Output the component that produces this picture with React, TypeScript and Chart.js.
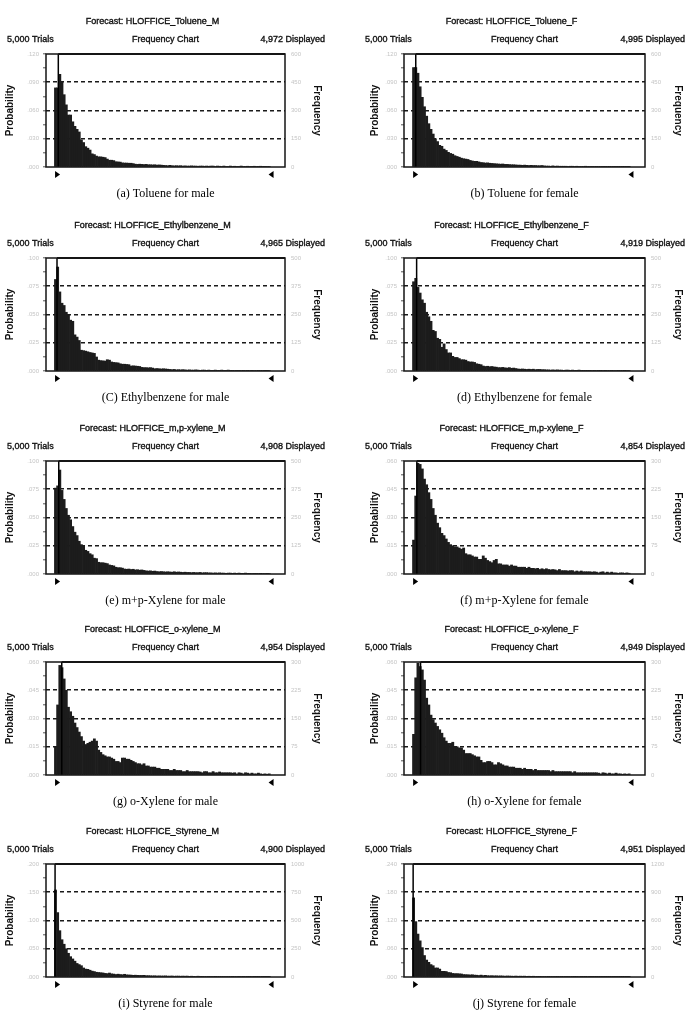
import { useEffect, useRef } from 'react';
import { Chart, registerables } from 'chart.js';

Chart.register(...registerables);
Chart.defaults.font.family = '"Liberation Sans", Arial, sans-serif';

const TRIALS = 5000;

// Forecast class counts (100 classes each, low to high)
const tolueneMale = [
  420, 420, 492, 450, 384, 330, 276, 276, 240, 216,
  200, 186, 144, 130, 108, 100, 90, 70, 66, 58,
  54, 54, 52, 50, 42, 36, 36, 34, 28, 27,
  26, 22, 21, 21, 20, 20, 18, 15, 14, 15,
  14, 13, 14, 12, 12, 11, 12, 10, 11, 10,
  9, 8, 7, 9, 7, 6, 7, 6, 7, 5,
  6, 5, 5, 6, 5, 5, 4, 5, 5, 4,
  5, 4, 5, 5, 3, 5, 4, 3, 5, 3,
  3, 5, 3, 4, 3, 3, 5, 3, 3, 4,
  3, 2, 4, 3, 2, 4, 2, 2, 3, 3,
];
const tolueneFemale = [
  528, 528, 498, 426, 370, 320, 270, 230, 200, 175,
  150, 135, 115, 110, 95, 88, 78, 72, 68, 60,
  56, 52, 47, 44, 42, 40, 35, 32, 30, 30,
  27, 24, 23, 21, 22, 20, 19, 18, 17, 16,
  15, 16, 14, 14, 13, 12, 12, 11, 10, 10,
  9, 10, 9, 8, 9, 8, 8, 7, 7, 8,
  6, 5, 5, 4, 6, 4, 5, 4, 4, 4,
  4, 3, 4, 4, 3, 4, 3, 3, 3, 4,
  3, 3, 2, 3, 2, 3, 3, 2, 2, 3,
  2, 3, 2, 2, 2, 2, 1, 2, 2, 1,
];
const ethylbenzeneMale = [
  405, 460, 350, 300, 290, 260, 250, 225, 220, 160,
  150, 135, 92, 90, 88, 85, 82, 80, 78, 62,
  48, 46, 45, 44, 50, 48, 40, 38, 37, 36,
  32, 30, 30, 29, 28, 22, 23, 22, 21, 20,
  16, 15, 15, 14, 15, 13, 10, 11, 10, 9,
  10, 9, 8, 7, 6, 7, 5, 6, 5, 6,
  5, 4, 5, 4, 4, 5, 4, 3, 4, 4,
  3, 4, 3, 3, 4, 3, 3, 4, 3, 3,
  4, 3, 3, 2, 3, 3, 2, 3, 2, 3,
  2, 3, 2, 2, 1, 2, 2, 3, 1, 2,
];
const ethylbenzeneFemale = [
  395, 410, 370, 345, 315, 300, 260, 240, 220, 180,
  175, 145, 140, 105, 120, 95, 80, 80, 65, 60,
  60, 55, 50, 50, 48, 42, 40, 40, 38, 32,
  30, 28, 22, 20, 21, 19, 20, 18, 17, 15,
  15, 16, 14, 13, 15, 12, 13, 11, 9, 8,
  9, 8, 7, 8, 7, 8, 6, 7, 7, 6,
  6, 5, 5, 4, 5, 4, 5, 4, 4, 3,
  4, 4, 3, 4, 3, 3, 4, 3, 3, 3,
  3, 3, 2, 3, 2, 3, 3, 2, 3, 2,
  2, 3, 2, 2, 3, 2, 2, 1, 2, 2,
];
const mpXyleneMale = [
  380, 390, 460, 370, 330, 290, 260, 240, 210, 185,
  170, 145, 130, 125, 105, 100, 90, 85, 70, 68,
  52, 50, 50, 48, 46, 40, 38, 36, 30, 28,
  28, 26, 22, 21, 22, 20, 21, 18, 19, 17,
  18, 16, 14, 13, 14, 12, 13, 11, 10, 11,
  10, 9, 10, 9, 8, 10, 8, 9, 8, 7,
  8, 7, 7, 6, 7, 6, 6, 7, 5, 6,
  6, 5, 5, 4, 5, 4, 5, 4, 4, 3,
  4, 4, 3, 4, 3, 4, 3, 3, 4, 3,
  3, 2, 3, 3, 2, 3, 2, 2, 1, 2,
];
const mpXyleneFemale = [
  90, 207, 294, 291, 279, 252, 237, 216, 198, 174,
  156, 135, 123, 108, 102, 93, 84, 78, 75, 72,
  72, 69, 66, 69, 54, 51, 51, 48, 45, 45,
  39, 39, 48, 42, 36, 33, 30, 36, 39, 27,
  27, 24, 24, 24, 21, 24, 21, 21, 18, 18,
  18, 18, 15, 18, 15, 15, 14, 15, 12, 14,
  12, 14, 12, 11, 12, 11, 9, 12, 9, 9,
  9, 8, 9, 9, 6, 8, 6, 8, 6, 6,
  6, 6, 5, 6, 5, 3, 5, 6, 3, 5,
  3, 5, 3, 3, 2, 3, 3, 2, 3, 2,
];
const oXyleneMale = [
  75, 186, 291, 285, 255, 225, 180, 168, 156, 138,
  126, 114, 102, 90, 81, 84, 87, 90, 96, 90,
  66, 60, 54, 51, 48, 48, 45, 42, 36, 36,
  33, 45, 45, 42, 42, 39, 36, 33, 30, 30,
  27, 30, 24, 24, 21, 21, 21, 18, 18, 15,
  15, 15, 15, 12, 12, 15, 12, 12, 12, 9,
  9, 12, 9, 9, 9, 9, 9, 8, 6, 9,
  9, 6, 6, 9, 6, 6, 8, 6, 6, 6,
  6, 6, 5, 6, 3, 6, 5, 3, 6, 5,
  3, 5, 3, 3, 5, 3, 2, 3, 2, 3,
];
const oXyleneFemale = [
  108, 258, 297, 288, 279, 252, 204, 186, 159, 147,
  138, 129, 120, 111, 99, 90, 84, 84, 87, 75,
  75, 72, 72, 66, 57, 57, 57, 54, 51, 48,
  48, 39, 33, 33, 36, 36, 33, 27, 27, 33,
  30, 27, 24, 24, 21, 21, 21, 18, 18, 18,
  15, 18, 15, 15, 15, 12, 15, 12, 12, 12,
  12, 12, 12, 9, 12, 9, 9, 9, 9, 9,
  9, 9, 9, 6, 9, 6, 6, 6, 6, 6,
  6, 6, 6, 6, 6, 5, 3, 6, 5, 3,
  5, 3, 3, 5, 3, 3, 2, 3, 2, 3,
];
const styreneMale = [
  770, 570, 410, 330, 290, 250, 210, 180, 160, 140,
  120, 110, 100, 80, 70, 68, 60, 52, 48, 42,
  40, 38, 36, 32, 30, 35, 28, 26, 22, 25,
  22, 20, 24, 19, 18, 17, 15, 16, 15, 14,
  14, 15, 12, 12, 11, 10, 11, 9, 10, 9,
  9, 10, 8, 8, 9, 7, 8, 8, 7, 8,
  7, 8, 6, 7, 6, 5, 7, 6, 6, 5,
  5, 6, 5, 4, 6, 5, 4, 5, 4, 4,
  5, 4, 3, 4, 5, 3, 4, 3, 4, 3,
  3, 4, 3, 2, 3, 4, 2, 3, 2, 3,
];
const styreneFemale = [
  840, 588, 456, 384, 312, 228, 180, 156, 132, 120,
  96, 96, 84, 60, 60, 58, 48, 46, 38, 36,
  36, 34, 32, 26, 25, 24, 22, 24, 20, 19,
  16, 20, 15, 18, 14, 13, 14, 12, 13, 11,
  12, 11, 9, 11, 10, 9, 8, 10, 8, 9,
  8, 9, 7, 8, 7, 8, 6, 7, 7, 6,
  6, 5, 7, 5, 5, 6, 4, 5, 4, 6,
  4, 4, 5, 4, 3, 4, 5, 3, 4, 3,
  5, 3, 3, 4, 3, 4, 3, 2, 3, 3,
  2, 4, 3, 2, 3, 2, 2, 4, 2, 2,
];

const seriesList = [
  tolueneMale, tolueneFemale,
  ethylbenzeneMale, ethylbenzeneFemale,
  mpXyleneMale, mpXyleneFemale,
  oXyleneMale, oXyleneFemale,
  styreneMale, styreneFemale,
];

const forecastNames = [
  'HLOFFICE_Toluene_M', 'HLOFFICE_Toluene_F',
  'HLOFFICE_Ethylbenzene_M', 'HLOFFICE_Ethylbenzene_F',
  'HLOFFICE_m,p-xylene_M', 'HLOFFICE_m,p-xylene_F',
  'HLOFFICE_o-xylene_M', 'HLOFFICE_o-xylene_F',
  'HLOFFICE_Styrene_M', 'HLOFFICE_Styrene_F',
];
const displayedCounts = [4972, 4995, 4965, 4919, 4908, 4854, 4954, 4949, 4900, 4951];
const captions = [
  '(a) Toluene for male', '(b) Toluene for female',
  '(C) Ethylbenzene for male', '(d) Ethylbenzene for female',
  '(e) m+p-Xylene for male', '(f) m+p-Xylene for female',
  '(g) o-Xylene for male', '(h) o-Xylene for female',
  '(i) Styrene for male', '(j) Styrene for female',
];
// frequency-axis maximum for each forecast
const frequencyMax = [600, 600, 500, 500, 500, 300, 300, 300, 1000, 1200];
// class width in concentration units
const classWidths = [1, 1, 0.4, 0.4, 0.5, 0.5, 0.2, 0.2, 0.3, 0.3];
// value of the marker line near the low end
const markerValues = [1.8, 1.5, 0.48, 0.76, 1.0, 1.0, 0.68, 0.74, 0.09, 0.09];

const PANEL_W = 350;
const PANEL_H = 204;
const ROW_TOPS = [0, 204, 407, 608, 810];
const COLS = [
  { x: 0, padL: 4, yW: 42, y1W: 38, padR: 27 },
  { x: 350, padL: 19, yW: 35, y1W: 39, padR: 16 },
];

const INK = '#151515';
const FAINT = '#c4c4c4';

function fmtProb(v: number) {
  return v.toFixed(3).replace(/^0/, '');
}

function heavyText(ctx: CanvasRenderingContext2D, s: string, x: number, y: number) {
  ctx.strokeText(s, x, y);
  ctx.fillText(s, x, y);
}

function decorPlugin(index: number) {
  const w = classWidths[index];
  return {
    id: 'forecastDecor',
    afterDatasetsDraw(chart: any) {
      const { ctx, chartArea: a, scales } = chart;
      const xs = scales.x;
      ctx.save();
      // marker line
      const mx = xs.getPixelForValue(markerValues[index]);
      ctx.strokeStyle = '#000';
      ctx.lineWidth = 1.5;
      ctx.beginPath();
      ctx.moveTo(mx, a.top);
      ctx.lineTo(mx, a.bottom);
      ctx.stroke();
      // plot frame
      ctx.strokeStyle = INK;
      ctx.lineWidth = 1.5;
      ctx.strokeRect(a.left, a.top, a.right - a.left, a.bottom - a.top);
      ctx.lineWidth = 2.2;
      ctx.beginPath();
      ctx.moveTo(mx, a.top);
      ctx.lineTo(a.right, a.top);
      ctx.stroke();
      // certainty grabbers
      const lo = xs.getPixelForValue(0.3 * w);
      const hi = xs.getPixelForValue(101.5 * w);
      const ty = a.bottom + 4;
      ctx.fillStyle = '#000';
      ctx.beginPath();
      ctx.moveTo(lo, ty);
      ctx.lineTo(lo, ty + 7);
      ctx.lineTo(lo + 5, ty + 3.5);
      ctx.closePath();
      ctx.fill();
      ctx.beginPath();
      ctx.moveTo(hi, ty);
      ctx.lineTo(hi, ty + 7);
      ctx.lineTo(hi - 5, ty + 3.5);
      ctx.closePath();
      ctx.fill();
      ctx.restore();
    },
    afterDraw(chart: any) {
      const { ctx, chartArea: a } = chart;
      const cx = (a.left + a.right) / 2;
      ctx.save();
      ctx.fillStyle = '#111';
      ctx.strokeStyle = '#111';
      ctx.lineWidth = 0.35;
      ctx.textBaseline = 'middle';
      ctx.font = '9px "Liberation Sans", Arial, sans-serif';
      ctx.textAlign = 'center';
      heavyText(ctx, `Forecast: ${forecastNames[index]}`, cx - 13, a.top - 32);
      ctx.textAlign = 'left';
      heavyText(ctx, '5,000 Trials', a.left - 39, a.top - 14);
      ctx.textAlign = 'center';
      heavyText(ctx, 'Frequency Chart', cx, a.top - 14);
      ctx.textAlign = 'right';
      heavyText(ctx, `${displayedCounts[index].toLocaleString('en-US')} Displayed`, a.right + 40, a.top - 14);
      ctx.font = '12px "Liberation Serif", "Times New Roman", serif';
      ctx.textAlign = 'center';
      ctx.fillStyle = '#000';
      ctx.fillText(captions[index], cx, a.bottom + 27);
      ctx.restore();
    },
  };
}

function ForecastPanel({ index }: { index: number }) {
  const ref = useRef<HTMLCanvasElement | null>(null);
  const col = COLS[index % 2];
  const top = ROW_TOPS[Math.floor(index / 2)];

  useEffect(() => {
    const canvas = ref.current;
    if (!canvas) return;
    const counts = seriesList[index];
    const w = classWidths[index];
    const fMax = frequencyMax[index];
    const pMax = fMax / TRIALS;
    const data = counts.map((c, i) => ({ x: (i + 0.5) * w, y: c }));

    const chart = new Chart(canvas, {
      type: 'bar',
      data: {
        datasets: [
          {
            data,
            backgroundColor: '#1c1c1c',
            borderWidth: 0,
            barPercentage: 1,
            categoryPercentage: 1,
            xAxisID: 'x',
            yAxisID: 'y1',
          } as any,
        ],
      },
      options: {
        animation: false,
        responsive: false,
        maintainAspectRatio: false,
        events: [],
        layout: { padding: { left: col.padL, right: col.padR, top: 54, bottom: 21 } },
        plugins: { legend: { display: false }, tooltip: { enabled: false } },
        scales: {
          x: {
            type: 'linear',
            offset: false,
            bounds: 'data',
            min: -3.9 * w,
            max: 106.8 * w,
            afterBuildTicks: (s: any) => {
              s.ticks = [0, 25, 50, 75, 100].map((k) => ({ value: k * w }));
            },
            afterFit: (s: any) => {
              s.height = 16;
            },
            grid: { display: false, offset: false },
            border: { display: false },
            ticks: {
              autoSkip: false,
              maxRotation: 0,
              padding: 9,
              color: FAINT,
              font: { size: 6 },
              callback: (v: any) => Number(v).toFixed(1),
            },
          },
          y: {
            position: 'left',
            min: 0,
            max: pMax,
            afterBuildTicks: (s: any) => {
              s.ticks = Array.from({ length: 9 }, (_, i) => ({ value: (pMax * i) / 8 }));
            },
            afterFit: (s: any) => {
              s.width = col.yW;
            },
            grid: {
              color: (c: any) =>
                c.index > 0 && c.index < 8 && c.index % 2 === 0 ? '#1a1a1a' : 'rgba(0,0,0,0)',
              lineWidth: 1.6,
              drawTicks: true,
              tickLength: 3,
              tickColor: '#555',
              tickWidth: 1,
            },
            border: { display: false, dash: [4, 3] },
            ticks: {
              padding: 4,
              color: FAINT,
              font: { size: 6 },
              callback: (v: any, i: number) => (i % 2 === 0 ? fmtProb(Number(v)) : ''),
            },
            title: {
              display: true,
              text: 'Probability',
              color: '#111',
              padding: 0,
              font: { size: 10, weight: 'bold' },
            },
          },
          y1: {
            position: 'right',
            min: 0,
            max: fMax,
            afterBuildTicks: (s: any) => {
              s.ticks = Array.from({ length: 5 }, (_, i) => ({ value: (fMax * i) / 4 }));
            },
            afterFit: (s: any) => {
              s.width = col.y1W;
            },
            grid: { drawOnChartArea: false, drawTicks: false },
            border: { display: false },
            ticks: {
              padding: 6,
              color: FAINT,
              font: { size: 6 },
              callback: (v: any) => String(Number(v)),
            },
            title: {
              display: true,
              text: 'Frequency',
              color: '#111',
              padding: 0,
              font: { size: 10, weight: 'bold' },
            },
          },
        },
      } as any,
      plugins: [decorPlugin(index)],
    });
    return () => chart.destroy();
  }, [index]);

  return (
    <canvas
      ref={ref}
      width={PANEL_W}
      height={PANEL_H}
      style={{ position: 'absolute', left: col.x, top, width: PANEL_W, height: PANEL_H }}
    />
  );
}

export default function App() {
  return (
    <div
      style={{
        position: 'absolute',
        left: 0,
        top: 0,
        width: 700,
        height: 1024,
        background: '#fff',
        overflow: 'hidden',
      }}
    >
      {seriesList.map((_, i) => (
        <ForecastPanel key={i} index={i} />
      ))}
    </div>
  );
}
